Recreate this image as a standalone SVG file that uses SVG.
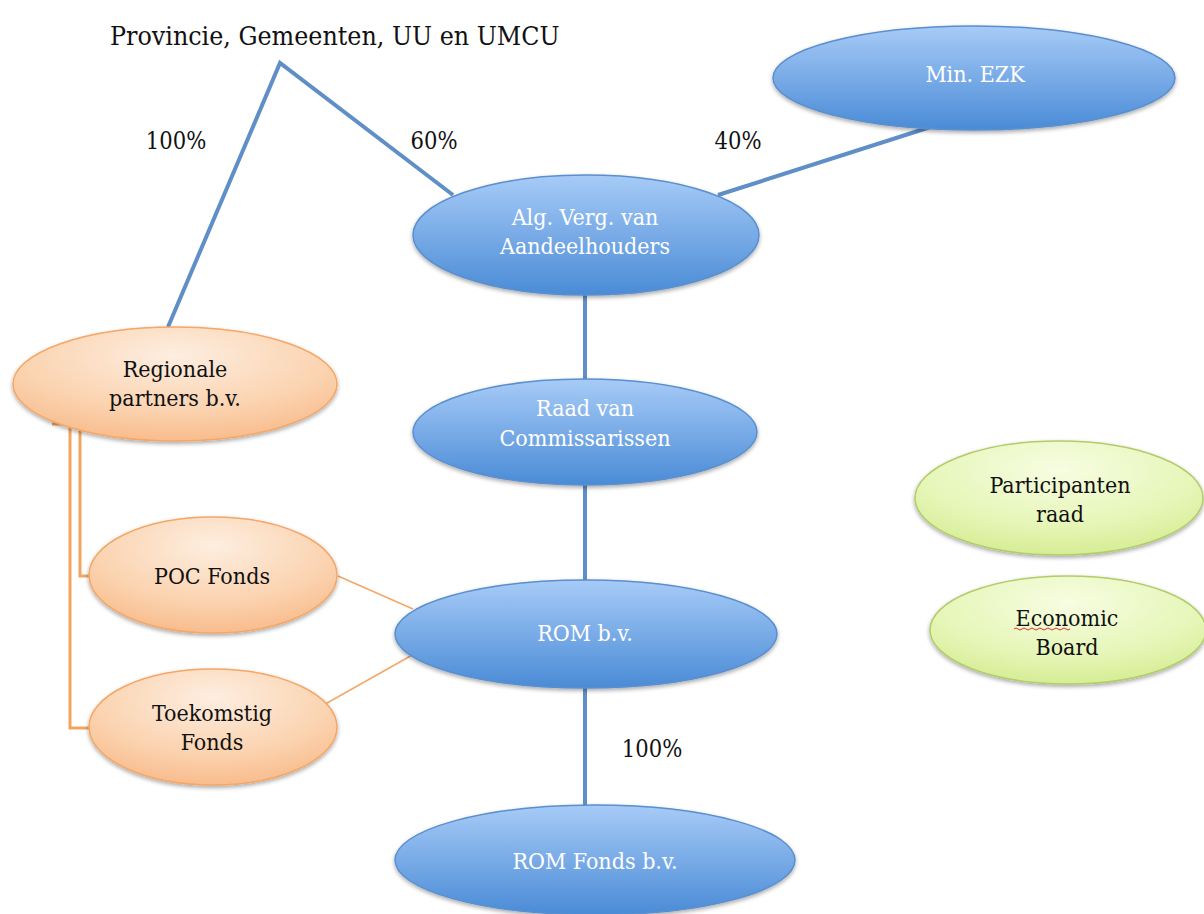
<svg xmlns="http://www.w3.org/2000/svg" width="1204" height="914" viewBox="0 0 1204 914">
<defs>
<linearGradient id="gBlue" x1="0" y1="0" x2="0" y2="1">
<stop offset="0" stop-color="#a7cbf7"/>
<stop offset="1" stop-color="#4a8bd6"/>
</linearGradient>
<radialGradient id="gOrange" cx="0.5" cy="0.25" r="0.8">
<stop offset="0" stop-color="#fdeee0"/>
<stop offset="0.6" stop-color="#fbd3b0"/>
<stop offset="1" stop-color="#f8b886"/>
</radialGradient>
<radialGradient id="gGreen" cx="0.5" cy="0.25" r="0.8">
<stop offset="0" stop-color="#f7fde2"/>
<stop offset="0.6" stop-color="#e6f6b8"/>
<stop offset="1" stop-color="#d3eb8e"/>
</radialGradient>
<filter id="sh" x="-10%" y="-10%" width="120%" height="130%">
<feGaussianBlur in="SourceAlpha" stdDeviation="2"/>
<feOffset dx="0" dy="2" result="b"/>
<feComponentTransfer><feFuncA type="linear" slope="0.35"/></feComponentTransfer>
<feMerge><feMergeNode/><feMergeNode in="SourceGraphic"/></feMerge>
</filter>
</defs>
<style>
.blue{fill:url(#gBlue);stroke:#5a8fcf;stroke-width:1.5;filter:url(#sh)}
.orange{fill:url(#gOrange);stroke:#f4a766;stroke-width:1.5;filter:url(#sh)}
.green{fill:url(#gGreen);stroke:#b2cc6a;stroke-width:1.5;filter:url(#sh)}
text{font-family:"DejaVu Serif Condensed","DejaVu Serif","Liberation Serif",serif;font-stretch:condensed;font-size:23px;text-anchor:middle}
.w{fill:#ffffff}
.k{fill:#111111}
.pc{font-size:23.5px}
.bl{fill:none;stroke:#5f8fc6;stroke-width:4}
.ol{fill:none;stroke:#f4a766;stroke-width:1.5}
.od{fill:none;stroke:#f2a560;stroke-width:3}
</style>
<rect width="1204" height="914" fill="#ffffff"/>
<g id="connectors">
<polyline class="bl" points="168,327 280,63 453,195"/>
<line class="bl" x1="943" y1="123" x2="718" y2="195"/>
<line class="bl" x1="585" y1="295" x2="585" y2="380"/>
<line class="bl" x1="585" y1="485" x2="585" y2="580"/>
<line class="bl" x1="585" y1="688" x2="585" y2="805"/>
<line class="ol" x1="338" y1="576" x2="413" y2="609"/>
<line class="ol" x1="320" y1="707" x2="414" y2="654"/>
<polyline class="od" points="52,424 80,424 80,576 92,576"/>
<polyline class="od" points="70,424 70,728 92,728"/>
</g>
<g id="labels">
<text class="k" x="110" y="45" style="text-anchor:start;font-size:26.5px">Provincie, Gemeenten, UU en UMCU</text>
<text class="k pc" x="176" y="149">100%</text>
<text class="k pc" x="434" y="149">60%</text>
<text class="k pc" x="738" y="149">40%</text>
<text class="k pc" x="652" y="757">100%</text>
</g>
<g id="min-ezk">
<ellipse class="blue" cx="974" cy="78" rx="201" ry="52"/>
<text class="w" x="975" y="82">Min. EZK</text>
</g>
<g id="alg-verg">
<ellipse class="blue" cx="586" cy="235" rx="173" ry="60"/>
<text class="w" x="585" y="225">Alg. Verg. van</text>
<text class="w" x="585" y="254">Aandeelhouders</text>
</g>
<g id="raad-van-commissarissen">
<ellipse class="blue" cx="585" cy="432" rx="172" ry="53"/>
<text class="w" x="585" y="416">Raad van</text>
<text class="w" x="585" y="446">Commissarissen</text>
</g>
<g id="rom-bv">
<ellipse class="blue" cx="586" cy="634" rx="191" ry="54"/>
<text class="w" x="585" y="641">ROM b.v.</text>
</g>
<g id="rom-fonds-bv">
<ellipse class="blue" cx="595" cy="860" rx="200" ry="55"/>
<text class="w" x="595" y="869">ROM Fonds b.v.</text>
</g>
<g id="regionale-partners">
<ellipse class="orange" cx="175" cy="384" rx="162" ry="57"/>
<text class="k" x="175" y="377">Regionale</text>
<text class="k" x="175" y="406">partners b.v.</text>
</g>
<g id="poc-fonds">
<ellipse class="orange" cx="213" cy="575" rx="124" ry="58"/>
<text class="k" x="212" y="584">POC Fonds</text>
</g>
<g id="toekomstig-fonds">
<ellipse class="orange" cx="213" cy="727" rx="124" ry="58"/>
<text class="k" x="212" y="721">Toekomstig</text>
<text class="k" x="212" y="750">Fonds</text>
</g>
<g id="participanten-raad">
<ellipse class="green" cx="1059" cy="498" rx="144" ry="57"/>
<text class="k" x="1060" y="493">Participanten</text>
<text class="k" x="1060" y="522">raad</text>
</g>
<g id="economic-board">
<ellipse class="green" cx="1068" cy="630" rx="138" ry="54"/>
<text class="k" x="1067" y="626">Economic</text>
<text class="k" x="1067" y="655">Board</text>
<path d="M1014,629 q2,-2 4,0 t4,0 t4,0 t4,0 t4,0 t4,0 t4,0 t4,0 t4,0 t4,0 t4,0 t4,0 t4,0 t4,0" fill="none" stroke="#e03030" stroke-width="1"/>
</g>
</svg>
